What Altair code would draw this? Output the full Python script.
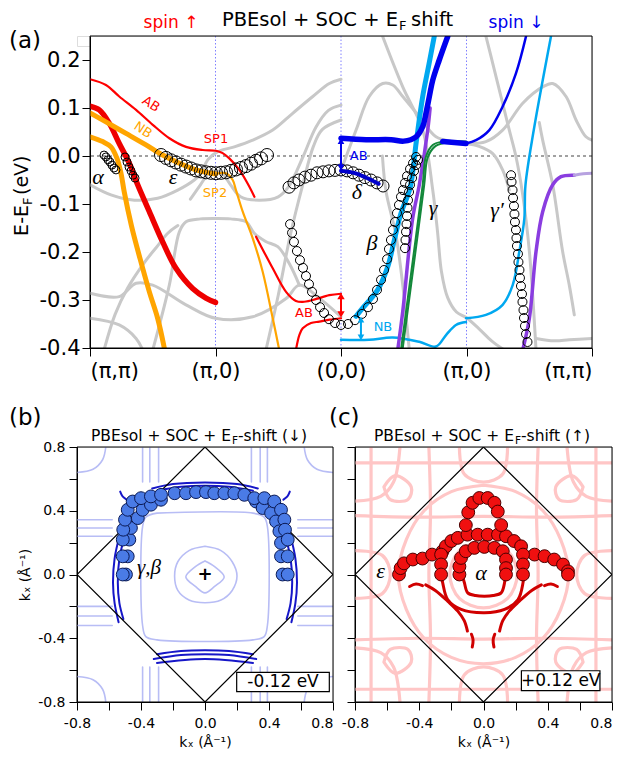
import json
import altair as alt
import pandas as pd

FONT = "DejaVu Sans"
SERIF = "Liberation Serif"

# ======================= panel (a) values =======================
A_XTICK_VALUES = [0, 1, 2, 3, 4]
A_XTICK_LABELS = ["(π,π)", "(π,0)", "(0,0)", "(π,0)", "(π,π)"]
A_YTICK_VALUES = [-0.4, -0.3, -0.2, -0.1, 0.0, 0.1, 0.2]
A_GUIDES_K = [1, 2, 3]

# spin-up DFT bands (k path coordinate, E-EF in eV)
RED_AB_K = [0.0, 0.127, 0.233, 0.367, 0.500, 0.632, 0.765, 0.898, 1.004, 1.057, 1.110, 1.190, 1.270, 1.310]
RED_AB_E = [0.160, 0.148, 0.124, 0.096, 0.065, 0.037, 0.019, 0.0125, 0.011, 0.006, -0.005, -0.029, -0.064, -0.085]
RED_AB2_K = [1.323, 1.456, 1.562, 1.641, 1.695, 1.775, 1.907, 2.0]
RED_AB2_E = [-0.168, -0.234, -0.283, -0.302, -0.304, -0.300, -0.290, -0.287]
RED_AB3_K = [1.641, 1.668, 1.695, 1.761, 1.827, 1.910, 2.0]
RED_AB3_E = [-0.404, -0.373, -0.359, -0.348, -0.345, -0.341, -0.338]
RED_NB_K = [0.0, 0.074, 0.154, 0.233, 0.313, 0.380, 0.473, 0.579, 0.685, 0.818, 0.924, 1.0]
RED_NB_E = [0.104, 0.096, 0.068, 0.026, -0.015, -0.060, -0.116, -0.179, -0.234, -0.276, -0.296, -0.305]
ORANGE_NB_K = [0.0, 0.127, 0.287, 0.446, 0.579, 0.712, 0.845, 1.0]
ORANGE_NB_E = [0.090, 0.071, 0.047, 0.023, 0.002, -0.015, -0.029, -0.0375]
ORANGE_SP2_K = [1.0, 1.084, 1.137, 1.163, 1.217, 1.296, 1.376, 1.456, 1.508]
ORANGE_SP2_E = [-0.0375, -0.036, -0.050, -0.071, -0.116, -0.171, -0.241, -0.338, -0.404]
ORANGE_LOW_K = [0.0, 0.101, 0.167, 0.215, 0.247, 0.273, 0.330, 0.400, 0.473, 0.539, 0.592]
ORANGE_LOW_E = [0.040, 0.030, 0.019, -0.005, -0.036, -0.075, -0.145, -0.215, -0.283, -0.338, -0.400]

# other (grey) DFT bands
GRAY_BANDS = {
    "g1": ([0.0, 0.167, 0.353, 0.539, 0.699, 0.831, 0.884, 0.938, 1.018, 1.150, 1.296, 1.456, 1.615, 1.775, 1.907, 2.0],
           [-0.060, -0.081, -0.092, -0.088, -0.071, -0.050, -0.036, -0.008, 0.009, 0.019, 0.033, 0.054, 0.089, 0.124, 0.151, 0.160]),
    "g2": ([0.80, 0.88, 0.95, 1.0, 1.05, 1.12, 1.20, 1.35, 1.50, 1.58, 1.70, 1.80, 1.90, 2.0],
           [-0.090, -0.060, -0.035, -0.030, -0.035, -0.060, -0.085, -0.092, -0.085, -0.065, 0.000, 0.060, 0.095, 0.106]),
    "g3": ([0.50, 0.632, 0.712, 0.765, 0.88, 1.0, 1.12, 1.243, 1.309, 1.40, 1.496, 1.59, 1.668],
           [-0.404, -0.269, -0.158, -0.137, -0.131, -0.130, -0.131, -0.137, -0.161, -0.178, -0.189, -0.225, -0.269]),
    "g4": ([0.0, 0.233, 0.367, 0.500, 0.765, 1.0, 1.296, 1.562, 1.668, 1.827, 2.0],
           [-0.286, -0.293, -0.265, -0.269, -0.310, -0.338, -0.335, -0.297, -0.269, -0.296, -0.335]),
    "g5": ([0.0, 0.233, 0.367, 0.42], [-0.338, -0.352, -0.380, -0.404]),
    "g6": ([0.112, 0.20, 0.30, 0.43, 0.53, 0.62, 0.70], [-0.404, -0.33, -0.275, -0.223, -0.19, -0.161, -0.145]),
    "g7": ([1.402, 1.50, 1.60, 1.695, 1.78, 1.85, 2.0], [-0.404, -0.29, -0.16, -0.06, 0.02, 0.055, 0.075]),
    "g8": ([2.0, 2.12, 2.225, 2.332, 2.412, 2.492, 2.624, 2.757, 2.890, 2.996],
           [-0.030, 0.054, 0.124, 0.151, 0.148, 0.124, 0.082, 0.040, 0.030, 0.026]),
    "g9": ([2.996, 3.155, 3.288, 3.448, 3.607, 3.687, 3.793, 3.873, 3.952, 4.0],
           [0.026, 0.030, 0.054, 0.110, 0.144, 0.151, 0.124, 0.075, 0.040, 0.033]),
    "g10": ([2.332, 2.492, 2.651, 2.731, 2.77, 2.80, 2.85, 2.92, 3.0, 3.10, 3.20, 3.30],
            [0.249, 0.144, 0.054, -0.071, -0.16, -0.24, -0.295, -0.325, -0.337, -0.36, -0.385, -0.404]),
    "g11": ([2.33, 2.359, 2.438, 2.492, 2.544], [0.0, -0.074, -0.165, -0.269, -0.404]),
    "g12": ([3.155, 3.209, 3.341, 3.394, 3.448, 3.501, 3.554], [0.249, 0.193, 0.054, -0.001, -0.081, -0.199, -0.404]),
    "g13": ([3.58, 3.607, 3.687, 3.766, 3.819, 3.859], [0.07, 0.033, -0.06, -0.199, -0.269, -0.331]),
    "g14": ([3.554, 3.70, 3.819, 4.0], [-0.38, -0.385, -0.383, -0.38]),
    "g15": ([2.996, 3.10, 3.209, 3.288, 3.341], [0.026, 0.020, 0.005, -0.029, -0.071]),
}

# spin-down DFT bands
BLUE_THICK_K = [2.0, 2.2, 2.4, 2.5, 2.598, 2.651, 2.677, 2.704, 2.731, 2.783, 2.850]
BLUE_THICK_E = [0.037, 0.034, 0.034, 0.031, 0.040, 0.061, 0.089, 0.124, 0.158, 0.200, 0.249]
BLUE_FLAT_K = [2.810, 2.996]
BLUE_FLAT_E = [0.030, 0.026]
BLUE_THIN_K = [2.996, 3.076, 3.182, 3.288, 3.394, 3.474]
BLUE_THIN_E = [0.026, 0.033, 0.054, 0.103, 0.172, 0.249]
BLUE_DELTA_K = [2.0, 2.1, 2.2, 2.3]
BLUE_DELTA_E = [-0.031, -0.035, -0.045, -0.058]
LBLUE_THICK_K = [2.12, 2.159, 2.292, 2.372, 2.425, 2.478, 2.55, 2.60, 2.651, 2.70, 2.743]
LBLUE_THICK_E = [-0.334, -0.321, -0.279, -0.231, -0.175, -0.119, -0.067, 0.03, 0.124, 0.19, 0.249]
LBLUE_NB_K = [2.0, 2.225, 2.412, 2.624, 2.757, 2.837, 2.916, 2.996]
LBLUE_NB_E = [-0.383, -0.383, -0.378, -0.387, -0.397, -0.373, -0.352, -0.346]
LBLUE_R_K = [2.996, 3.155, 3.288, 3.368, 3.421, 3.461, 3.47, 3.536, 3.673]
LBLUE_R_E = [-0.338, -0.331, -0.310, -0.269, -0.199, -0.130, -0.06, 0.054, 0.249]
PURPLE1_K = [2.452, 2.492, 2.571, 2.624, 2.691, 2.71]
PURPLE1_E = [-0.404, -0.324, -0.130, -0.060, 0.054, 0.10]
PURPLE2_K = [3.448, 3.501, 3.554, 3.607, 3.687, 3.753, 3.859]
PURPLE2_E = [-0.404, -0.338, -0.199, -0.116, -0.060, -0.043, -0.040]
LAVENDER_K = [3.859, 3.93, 4.0]
LAVENDER_E = [-0.040, -0.037, -0.036]
GREEN1_K = [2.478, 2.571, 2.651, 2.677, 2.731, 2.810, 2.996]
GREEN1_E = [-0.404, -0.220, -0.060, -0.001, 0.023, 0.030, 0.030]
GREEN2_K = [2.49, 2.583, 2.663, 2.69, 2.745, 2.82, 2.996]
GREEN2_E = [-0.404, -0.220, -0.060, -0.004, 0.019, 0.027, 0.028]

# ARPES band positions (open circles)
ARPES_ALPHA_K = [0.112, 0.127, 0.143, 0.159, 0.175, 0.191, 0.207]
ARPES_ALPHA_E = [0.002, -0.002, -0.008, -0.0125, -0.019, -0.025, -0.029]
ARPES_ALPHA2_K = [0.279, 0.295, 0.311, 0.327, 0.343, 0.359]
ARPES_ALPHA2_E = [-0.002, -0.0125, -0.023, -0.031, -0.040, -0.046]
ARPES_EPS_K = [0.566, 0.606, 0.645, 0.685, 0.725, 0.765, 0.805, 0.845, 0.884, 0.924, 0.964,
               1.004, 1.044, 1.084, 1.124, 1.163, 1.203, 1.243, 1.283, 1.323, 1.363, 1.410]
ARPES_EPS_E = [0.002, -0.004, -0.009, -0.0135, -0.018, -0.022, -0.026, -0.030, -0.032, -0.034, -0.035,
               -0.036, -0.035, -0.034, -0.031, -0.028, -0.025, -0.021, -0.016, -0.010, -0.005, 0.002]
ARPES_DELTA_K = [1.586, 1.625, 1.665, 1.713, 1.761, 1.809, 1.857, 1.904, 1.952, 2.0, 2.048, 2.096,
                 2.143, 2.191, 2.239, 2.287, 2.335]
ARPES_DELTA_E = [-0.065, -0.056, -0.050, -0.044, -0.040, -0.035, -0.033, -0.031, -0.030, -0.029, -0.031,
                 -0.035, -0.040, -0.045, -0.050, -0.056, -0.0625]
ARPES_BETA_K = [1.594, 1.610, 1.625, 1.649, 1.673, 1.697, 1.721, 1.745, 1.769, 1.801,
                1.833, 1.865, 1.904, 1.952, 2.0, 2.056, 2.112, 2.167, 2.215, 2.255,
                2.287, 2.319, 2.343, 2.367, 2.382, 2.398, 2.414, 2.430, 2.446, 2.462,
                2.478, 2.494, 2.510, 2.526, 2.550, 2.574, 2.598]
ARPES_BETA_E = [-0.142, -0.160, -0.179, -0.198, -0.217, -0.233, -0.250, -0.267, -0.283, -0.300,
                -0.315, -0.327, -0.340, -0.348, -0.352, -0.350, -0.342, -0.329, -0.315, -0.298,
                -0.279, -0.258, -0.2375, -0.215, -0.194, -0.175, -0.154, -0.1375, -0.119, -0.102,
                -0.085, -0.071, -0.056, -0.042, -0.027, -0.015, -0.002]
ARPES_GAMMA_K = [2.510, 2.514, 2.518, 2.522, 2.526, 2.530, 2.534, 2.542, 2.550, 2.566, 2.582, 2.598, 2.614]
ARPES_GAMMA_E = [-0.192, -0.175, -0.158, -0.142, -0.125, -0.108, -0.092, -0.075, -0.060, -0.046, -0.031,
                 -0.019, -0.008]
ARPES_GAMMAP_K = [3.355, 3.359, 3.367, 3.371, 3.378, 3.382, 3.386, 3.394, 3.398, 3.402, 3.410,
                  3.414, 3.422, 3.426, 3.434, 3.442, 3.446, 3.454, 3.458, 3.466, 3.474, 3.486]
ARPES_GAMMAP_E = [-0.040, -0.054, -0.071, -0.0875, -0.104, -0.121, -0.1375, -0.154, -0.171, -0.1875, -0.204,
                  -0.221, -0.2375, -0.254, -0.271, -0.2875, -0.304, -0.321, -0.3375, -0.354, -0.371, -0.3875]

# ======================= panels (b), (c) values =======================
BC_TICKS = [-0.8, -0.6, -0.4, -0.2, 0.0, 0.2, 0.4, 0.6, 0.8]
BZ_K = [0.0, 0.8, 0.0, -0.8, 0.0]
BZ_Y = [0.8, 0.0, -0.8, 0.0, 0.8]

B_LIGHT = {
    "in1": ([0.0, 0.06, 0.12, 0.06, 0.0, -0.06, -0.12, -0.06, 0.0],
            [0.085, 0.05, -0.015, -0.075, -0.115, -0.075, -0.015, 0.05, 0.085]),
    "in2": ([0.0, 0.10, 0.17, 0.20, 0.17, 0.10, 0.0, -0.10, -0.17, -0.19, -0.17, -0.10, 0.0],
            [0.177, 0.15, 0.08, -0.01, -0.10, -0.16, -0.177, -0.16, -0.10, -0.01, 0.08, 0.15, 0.177]),
    "sq": ([-0.30, 0.30, 0.37, 0.39, 0.39, 0.37, 0.30, -0.30, -0.37, -0.39, -0.39, -0.37, -0.30],
           [0.385, 0.385, 0.36, 0.30, -0.32, -0.39, -0.41, -0.41, -0.39, -0.32, 0.30, 0.36, 0.385]),
    "ctr": ([0.62, 0.64, 0.70, 0.80], [0.80, 0.72, 0.66, 0.64]),
    "ctl": ([-0.62, -0.64, -0.70, -0.80], [0.80, 0.72, 0.66, 0.64]),
    "cbr": ([0.62, 0.64, 0.70, 0.80], [-0.80, -0.72, -0.66, -0.64]),
    "cbl": ([-0.62, -0.64, -0.70, -0.80], [-0.80, -0.72, -0.66, -0.64]),
}
B_LIGHT_VLINES = [-0.39, -0.345, -0.29, 0.29, 0.345, 0.39]
B_LIGHT_HLINES = [0.344, 0.292, 0.24, -0.20, -0.26, -0.32]
B_DARK = {
    "t1": ([-0.33, -0.2, 0.0, 0.2, 0.33], [0.54, 0.568, 0.578, 0.568, 0.54]),
    "t2": ([-0.30, -0.15, 0.0, 0.15, 0.30], [0.525, 0.55, 0.557, 0.55, 0.525]),
    "l1": ([-0.53, -0.565, -0.575, -0.565, -0.54], [0.26, 0.10, -0.05, -0.18, -0.30]),
    "l2": ([-0.50, -0.535, -0.545, -0.535, -0.51], [0.25, 0.10, -0.05, -0.18, -0.28]),
    "r1": ([0.53, 0.565, 0.575, 0.565, 0.54], [0.26, 0.10, -0.05, -0.18, -0.30]),
    "r2": ([0.50, 0.535, 0.545, 0.535, 0.51], [0.25, 0.10, -0.05, -0.18, -0.28]),
    "b1": ([-0.30, -0.15, 0.0, 0.15, 0.30], [-0.50, -0.48, -0.475, -0.48, -0.50]),
    "b2": ([-0.32, -0.15, 0.0, 0.15, 0.32], [-0.53, -0.505, -0.50, -0.505, -0.53]),
    "b3": ([-0.30, 0.0, 0.30], [-0.555, -0.53, -0.555]),
    "hl": ([-0.53, -0.515, -0.49], [0.52, 0.49, 0.47]),
    "hr": ([0.53, 0.515, 0.49], [0.52, 0.49, 0.47]),
}
B_OUT_K = [-0.514, -0.514, -0.514, -0.511, -0.500, -0.483, -0.452, -0.400, -0.338, -0.275, -0.190, -0.119, -0.056,
           0.006, 0.058, 0.121, 0.183, 0.246, 0.308, 0.371, 0.433, 0.475, 0.496, 0.500, 0.517, 0.517, 0.517]
B_OUT_Y = [0.000, 0.114, 0.219, 0.281, 0.344, 0.406, 0.458, 0.479, 0.490, 0.500, 0.510, 0.510, 0.517,
           0.517, 0.510, 0.510, 0.510, 0.500, 0.479, 0.479, 0.458, 0.406, 0.344, 0.281, 0.219, 0.114, 0.000]
B_IN_K = [-0.494, -0.483, -0.473, -0.463, -0.420, -0.390, -0.338, -0.275, 0.319, 0.360, 0.413, 0.444, 0.465, 0.475,
          0.475, 0.485]
B_IN_Y = [0.000, 0.114, 0.219, 0.292, 0.354, 0.406, 0.438, 0.469, 0.458, 0.417, 0.385, 0.333, 0.271, 0.198,
          0.114, 0.000]

C_PINK = {
    "circle": ([0.0, 0.20, 0.37, 0.48, 0.53, 0.48, 0.37, 0.20, 0.0, -0.20, -0.37, -0.48, -0.53, -0.48, -0.37, -0.20, 0.0],
               [0.56, 0.52, 0.40, 0.22, 0.0, -0.22, -0.40, -0.52, -0.56, -0.52, -0.40, -0.22, 0.0, 0.22, 0.40, 0.52, 0.56]),
    "ring": ([0.0, 0.15, 0.21, 0.15, 0.0, -0.15, -0.21, -0.15, 0.0], [0.21, 0.15, 0.0, -0.15, -0.21, -0.15, 0.0, 0.15, 0.21]),
    "v1": ([-0.34, -0.33, -0.34, -0.33, -0.34], [0.80, 0.40, 0.0, -0.40, -0.80]),
    "v2": ([0.34, 0.33, 0.34, 0.33, 0.34], [0.80, 0.40, 0.0, -0.40, -0.80]),
    "h1": ([-0.80, -0.40, 0.0, 0.40, 0.80], [0.37, 0.36, 0.365, 0.36, 0.37]),
    "h2": ([-0.80, -0.40, 0.0, 0.40, 0.80], [-0.41, -0.40, -0.405, -0.40, -0.41]),
    "v3": ([-0.70, -0.70], [0.80, -0.80]),
    "v4": ([0.70, 0.70], [0.80, -0.80]),
    "h3": ([-0.80, 0.80], [0.70, 0.70]),
    "h4": ([-0.80, 0.80], [-0.72, -0.72]),
    "ltl": ([-0.62, -0.55, -0.45, -0.47, -0.58, -0.62], [0.55, 0.62, 0.55, 0.47, 0.47, 0.55]),
    "ltr": ([0.62, 0.55, 0.45, 0.47, 0.58, 0.62], [0.55, 0.62, 0.55, 0.47, 0.47, 0.55]),
    "lbl": ([-0.62, -0.55, -0.45, -0.47, -0.58, -0.62], [-0.55, -0.62, -0.55, -0.47, -0.47, -0.55]),
    "lbr": ([0.62, 0.55, 0.45, 0.47, 0.58, 0.62], [-0.55, -0.62, -0.55, -0.47, -0.47, -0.55]),
    "atl": ([-0.80, -0.64, -0.56, -0.52], [0.46, 0.49, 0.58, 0.80]),
    "atr": ([0.80, 0.64, 0.56, 0.52], [0.46, 0.49, 0.58, 0.80]),
    "abl": ([-0.80, -0.64, -0.56, -0.52], [-0.46, -0.49, -0.58, -0.80]),
    "abr": ([0.80, 0.64, 0.56, 0.52], [-0.46, -0.49, -0.58, -0.80]),
    "sl": ([-0.80, -0.63, -0.58, -0.63, -0.80], [0.15, 0.12, 0.0, -0.12, -0.15]),
    "sr": ([0.80, 0.63, 0.58, 0.63, 0.80], [0.15, 0.12, 0.0, -0.12, -0.15]),
    "st": ([-0.15, -0.12, 0.0, 0.12, 0.15], [0.80, 0.63, 0.58, 0.63, 0.80]),
    "sb": ([-0.15, -0.12, 0.0, 0.12, 0.15], [-0.80, -0.63, -0.58, -0.63, -0.80]),
}
C_DARK = {
    "alpha": ([-0.13, -0.119, -0.098, -0.05, 0.006, 0.06, 0.11, 0.131, 0.135],
              [-0.01, -0.052, -0.115, -0.132, -0.136, -0.132, -0.115, -0.052, -0.01]),
    "u": ([-0.262, -0.254, -0.223, -0.139, 0.006, 0.131, 0.215, 0.246, 0.25],
          [-0.01, -0.052, -0.157, -0.219, -0.24, -0.219, -0.157, -0.052, -0.01]),
    "brl": ([-0.36, -0.30, -0.22, -0.16, -0.12, -0.10], [-0.065, -0.10, -0.17, -0.23, -0.29, -0.355]),
    "brr": ([0.36, 0.30, 0.22, 0.16, 0.12, 0.10], [-0.065, -0.10, -0.17, -0.23, -0.29, -0.355]),
    "dl": ([-0.075, -0.065, -0.07], [-0.375, -0.41, -0.455]),
    "dr": ([0.07, 0.06, 0.065], [-0.375, -0.41, -0.455]),
    "tl": ([-0.46, -0.42, -0.38], [-0.075, -0.06, -0.07]),
    "tr": ([0.38, 0.42, 0.46], [-0.07, -0.06, -0.075]),
}
C_EPS_K = [-0.526, -0.516, -0.495, -0.44, -0.38, -0.32, -0.255, -0.234, -0.2, -0.16, -0.1, -0.036, 0.026, 0.09,
           0.14, 0.19, 0.234, 0.318, 0.38, 0.44, 0.495, 0.526, 0.526]
C_EPS_Y = [0.0, 0.04, 0.07, 0.094, 0.10, 0.125, 0.146, 0.177, 0.21, 0.23, 0.25, 0.25, 0.25, 0.25,
           0.24, 0.21, 0.177, 0.125, 0.115, 0.094, 0.0625, 0.02, 0.0]
C_BUMP_K = [-0.11, -0.095, -0.068, -0.026, 0.026, 0.068, 0.089, 0.11]
C_BUMP_Y = [0.31, 0.39, 0.45, 0.48, 0.48, 0.45, 0.395, 0.31]
C_ALPHA_K = [-0.15, -0.15, -0.14, -0.11, -0.057, 0.005, 0.068, 0.12, 0.14, 0.14, 0.14]
C_ALPHA_Y = [0.0, 0.05, 0.104, 0.146, 0.167, 0.173, 0.167, 0.146, 0.094, 0.04, 0.0]
C_LEGS_K = [-0.264, -0.264, -0.264, 0.246, 0.246, 0.246]
C_LEGS_Y = [0.125, 0.063, 0.0, 0.125, 0.063, 0.0]

# ======================= colours =======================
GRAY = "#c8c8c8"
RED = "#ff0000"
ORANGE = "#ffa500"
BLUE = "#0000ee"
LBLUE = "#00a8f0"
PURPLE = "#8a3de0"
LAVENDER = "#b7a2e0"
GREEN = "#13883a"
GUIDE = "#8080ff"


# ======================= helpers =======================
def lines(curves, color, width, X, Y, dash=None, interp="catmull-rom"):
    rows = []
    for name, (ks, ys) in curves.items():
        assert len(ks) == len(ys), name
        for i, (a, b) in enumerate(zip(ks, ys)):
            rows.append({"id": name, "x": a, "y": b, "i": i})
    kw = dict(color=color, strokeWidth=width, interpolate=interp, clip=True,
              strokeCap="round", strokeJoin="round", opacity=1)
    if dash is not None:
        kw["strokeDash"] = dash
    return alt.Chart(pd.DataFrame(rows)).mark_line(**kw).encode(
        x=X, y=Y, detail="id:N", order="i:Q")


def dots(ks, ys, X, Y, size, stroke="black", fill=None, sw=1.0):
    assert len(ks) == len(ys)
    df = pd.DataFrame({"x": ks, "y": ys})
    if fill is None:
        m = alt.Chart(df).mark_point(shape="circle", filled=False, color=stroke, strokeWidth=sw,
                                     size=size, opacity=1, clip=True)
    else:
        m = alt.Chart(df).mark_point(shape="circle", filled=True, fill=fill, stroke=stroke,
                                     strokeWidth=sw, size=size, opacity=1, clip=True)
    return m.encode(x=X, y=Y)


def dtext(s, x, y, X, Y, size, color="black", font=FONT, style="normal", angle=0,
          align="center", baseline="middle", weight="normal"):
    return alt.Chart(pd.DataFrame({"x": [x], "y": [y], "t": [s]})).mark_text(
        font=font, fontSize=size, color=color, fontStyle=style, angle=angle,
        align=align, baseline=baseline, fontWeight=weight).encode(x=X, y=Y, text="t:N")


def ptext(s, x, y, size, color="black", align="left", angle=0, font=FONT, baseline="alphabetic"):
    return alt.Chart(pd.DataFrame({"t": [s]})).mark_text(
        font=font, fontSize=size, color=color, align=align, angle=angle, baseline=baseline).encode(
        x=alt.value(x), y=alt.value(y), text="t:N")


def frame(w, h):
    return alt.Chart(pd.DataFrame({"v": [0]})).mark_rect(
        fillOpacity=0, stroke="black", strokeWidth=1).encode(
        x=alt.value(0), x2=alt.value(w), y=alt.value(0), y2=alt.value(h))


def darrow(k, e_top, e_bot, color, X, Y, width=2.0, head=45):
    rule = alt.Chart(pd.DataFrame({"x": [k], "y": [e_top], "y2": [e_bot]})).mark_rule(
        color=color, strokeWidth=width).encode(x=X, y=Y, y2=alt.Y2("y2"))
    up = alt.Chart(pd.DataFrame({"x": [k], "y": [e_top]})).mark_point(
        shape="triangle-up", filled=True, color=color, size=head, opacity=1).encode(x=X, y=Y)
    dn = alt.Chart(pd.DataFrame({"x": [k], "y": [e_bot]})).mark_point(
        shape="triangle-down", filled=True, color=color, size=head, opacity=1).encode(x=X, y=Y)
    return [rule, up, dn]


def box(x1, x2, y1, y2, label, X, Y, size=17):
    r = alt.Chart(pd.DataFrame({"x": [x1], "x2": [x2], "y": [y1], "y2": [y2]})).mark_rect(
        fill="white", stroke="black", strokeWidth=1.2).encode(x=X, x2=alt.X2("x2"), y=Y, y2=alt.Y2("y2"))
    t = dtext(label, (x1 + x2) / 2, (y1 + y2) / 2, X, Y, size)
    return [r, t]


NUM_EXPR = "(datum.value < -0.001 ? '-' : '') + format(abs(datum.value), '.1f')"

# ======================= panel (a) =======================
XA = alt.X("x:Q", scale=alt.Scale(domain=[0, 4], nice=False, zero=False),
           axis=alt.Axis(values=A_XTICK_VALUES,
                         labelExpr=json.dumps(A_XTICK_LABELS, ensure_ascii=False) + "[datum.value]",
                         tickSize=8, tickColor="black", domainColor="black", labelColor="black",
                         labelFont=FONT, labelFontSize=21, labelPadding=4, grid=False,
                         labelOverlap=False, title=None))
YA = alt.Y("y:Q", scale=alt.Scale(domain=[-0.4, 0.25], nice=False, zero=False),
           axis=alt.Axis(values=A_YTICK_VALUES, labelExpr=NUM_EXPR, tickSize=8, tickColor="black",
                         domainColor="black", labelColor="black", labelFont=FONT, labelFontSize=21,
                         labelPadding=2, grid=False, labelOverlap=False, title=None))

a_layers = [
    alt.Chart(pd.DataFrame({"x": A_GUIDES_K})).mark_rule(color=GUIDE, strokeWidth=1, strokeDash=[1.5, 2]).encode(x=XA),
    alt.Chart(pd.DataFrame({"y": [0.0]})).mark_rule(color="#444444", strokeWidth=1.2, strokeDash=[3, 3]).encode(y=YA),
    lines(GRAY_BANDS, GRAY, 3, XA, YA),
    lines({"lbt": (LBLUE_THICK_K, LBLUE_THICK_E)}, LBLUE, 5, XA, YA),
    lines({"lbn": (LBLUE_NB_K, LBLUE_NB_E), "lbr": (LBLUE_R_K, LBLUE_R_E)}, LBLUE, 2.5, XA, YA),
    lines({"p1": (PURPLE1_K, PURPLE1_E), "p2": (PURPLE2_K, PURPLE2_E)}, PURPLE, 3.5, XA, YA),
    lines({"lav": (LAVENDER_K, LAVENDER_E)}, LAVENDER, 3, XA, YA),
    lines({"gr1": (GREEN1_K, GREEN1_E), "gr2": (GREEN2_K, GREEN2_E)}, GREEN, 2, XA, YA),
    lines({"bt": (BLUE_THICK_K, BLUE_THICK_E), "bf": (BLUE_FLAT_K, BLUE_FLAT_E)}, BLUE, 5.5, XA, YA),
    lines({"bthin": (BLUE_THIN_K, BLUE_THIN_E)}, BLUE, 2.5, XA, YA),
    lines({"ra1": (RED_AB_K, RED_AB_E), "ra2": (RED_AB2_K, RED_AB2_E), "ra3": (RED_AB3_K, RED_AB3_E)}, RED, 2.2, XA, YA),
    lines({"rnb": (RED_NB_K, RED_NB_E)}, "#ee0000", 5.5, XA, YA),
    lines({"onb": (ORANGE_NB_K, ORANGE_NB_E), "olow": (ORANGE_LOW_K, ORANGE_LOW_E)}, ORANGE, 5, XA, YA),
    lines({"osp2": (ORANGE_SP2_K, ORANGE_SP2_E)}, ORANGE, 2.2, XA, YA),
    dots(ARPES_ALPHA_K, ARPES_ALPHA_E, XA, YA, 64),
    dots(ARPES_ALPHA2_K, ARPES_ALPHA2_E, XA, YA, 64),
    dots(ARPES_EPS_K, ARPES_EPS_E, XA, YA, 170),
    dots(ARPES_DELTA_K, ARPES_DELTA_E, XA, YA, 144),
    dots(ARPES_BETA_K, ARPES_BETA_E, XA, YA, 81),
    dots(ARPES_GAMMA_K, ARPES_GAMMA_E, XA, YA, 81),
    dots(ARPES_GAMMAP_K, ARPES_GAMMAP_E, XA, YA, 81),
    lines({"bd": (BLUE_DELTA_K, BLUE_DELTA_E)}, "#0000cc", 4, XA, YA, dash=[2, 1.5]),
]
a_layers += darrow(2.0, 0.031, -0.024, BLUE, XA, YA)
a_layers += darrow(2.0, -0.292, -0.330, RED, XA, YA, head=55)
a_layers += darrow(2.159, -0.341, -0.378, LBLUE, XA, YA)
a_layers += [
    dtext("AB", 0.486, 0.108, XA, YA, 13, color=RED, angle=33),
    dtext("NB", 0.422, 0.054, XA, YA, 13, color=ORANGE, angle=33),
    dtext("SP1", 1.004, 0.035, XA, YA, 13, color=RED),
    dtext("SP2", 0.996, -0.077, XA, YA, 13, color=ORANGE),
    dtext("AB", 1.705, -0.327, XA, YA, 13, color=RED),
    dtext("AB", 2.07, 0.0, XA, YA, 13, color=BLUE, align="left"),
    dtext("NB", 2.26, -0.356, XA, YA, 13, color=LBLUE, align="left"),
    dtext("α", 0.064, -0.044, XA, YA, 22, font=SERIF, style="italic"),
    dtext("ε", 0.661, -0.044, XA, YA, 22, font=SERIF, style="italic"),
    dtext("δ", 2.127, -0.075, XA, YA, 22, font=SERIF, style="italic"),
    dtext("β", 2.247, -0.181, XA, YA, 22, font=SERIF, style="italic"),
    dtext("γ", 2.733, -0.108, XA, YA, 22, font=SERIF, style="italic"),
    dtext("γ′", 3.243, -0.112, XA, YA, 22, font=SERIF, style="italic"),
    frame(502, 312),
    # titles (pixel positions relative to the panel's plot area)
    ptext("PBEsol + SOC + E", 308, -10, 19.5, align="right"),
    ptext("F", 309, -6, 13),
    ptext("shift", 321, -10, 19.5),
    ptext("spin ↑", 81, -8, 17, color=RED, align="center"),
    ptext("spin ↓", 426, -8, 17, color=BLUE, align="center"),
    ptext("(a)", -81, 12, 23),
    ptext("E-E", -62, 169, 19, align="right", angle=270),
    ptext("F", -58, 169, 13, angle=270),
    ptext(" (eV)", -62, 159, 19, angle=270),
]
panel_a = alt.layer(*a_layers).properties(width=502, height=312)

# invisible 13-px spacer: panel (a) starts 13 px to the right of panel (b)
spacer = alt.Chart(pd.DataFrame({"v": [0]})).mark_point(opacity=0).encode(
    x=alt.value(0), y=alt.value(0)).properties(width=13, height=10)

# ======================= panels (b) and (c) =======================
BC_LABEL_EXPR = ("abs(datum.value*2.5 - round(datum.value*2.5)) < 0.01 ? " + NUM_EXPR + " : ''")
KX_TITLE = "kₓ (Å⁻¹)"
X_ALIGN = {"condition": {"test": "datum.value > 0.79", "value": "right"}, "value": "center"}


def bc_axes(show_y):
    sc = alt.Scale(domain=[-0.8, 0.8], nice=False, zero=False)
    common = dict(values=BC_TICKS, tickSize=8, tickColor="black", domainColor="black", labelColor="black",
                  labelFont=FONT, labelFontSize=14, grid=False, labelOverlap=False,
                  titleFont=FONT, titleFontSize=14, titleFontWeight="normal", titleColor="black")
    X = alt.X("x:Q", scale=sc, axis=alt.Axis(labelExpr=BC_LABEL_EXPR, labelAlign=X_ALIGN, labelPadding=6,
                                              title=KX_TITLE, titlePadding=5, **common))
    if show_y:
        yax = alt.Axis(labelExpr=BC_LABEL_EXPR, labelPadding=4, title=KX_TITLE, titlePadding=5, **common)
    else:
        yax = alt.Axis(labels=False, title=None, **common)
    Y = alt.Y("y:Q", scale=sc, axis=yax)
    return X, Y


XB, YB = bc_axes(True)
b_layers = [
    lines(B_LIGHT, "#b8bdf5", 1.6, XB, YB),
    lines({f"v{i}_{s}": ([v, v], [0.8 * s, 0.58 * s]) for i, v in enumerate(B_LIGHT_VLINES) for s in (1, -1)},
          "#b8bdf5", 1.6, XB, YB, interp="linear"),
    lines({f"h{i}_{s}": ([0.8 * s, 0.58 * s], [h, h]) for i, h in enumerate(B_LIGHT_HLINES) for s in (1, -1)},
          "#b8bdf5", 1.6, XB, YB, interp="linear"),
    lines(B_DARK, "#1616c8", 2, XB, YB),
    lines({"bz": (BZ_K, BZ_Y)}, "black", 1.2, XB, YB, interp="linear"),
    dots(B_IN_K, B_IN_Y, XB, YB, 165, stroke="#0b1a55", fill="#4a7be6"),
    dots(B_OUT_K, B_OUT_Y, XB, YB, 165, stroke="#0b1a55", fill="#4a7be6"),
    dtext("+", 0.0, 0.0, XB, YB, 18, weight="bold"),
    dtext("γ,β", -0.35, 0.04, XB, YB, 21, font=SERIF, style="italic"),
]
b_layers += box(0.198, 0.777, -0.614, -0.735, "-0.12 eV", XB, YB)
b_layers += [
    frame(256, 255),
    ptext("(b)", -68, -22, 23),
    ptext("PBEsol + SOC + E", 154, -6, 15.5, align="right"),
    ptext("F", 155, -3, 10.5),
    ptext("-shift (↓)", 161, -6, 15.5),
]
panel_b = alt.layer(*b_layers).properties(width=256, height=255)

XC, YC = bc_axes(False)
c_layers = [
    lines(C_PINK, "#ffc6c6", 3.2, XC, YC),
    lines(C_DARK, "#d00000", 3, XC, YC),
    lines({"bz": (BZ_K, BZ_Y)}, "black", 1.2, XC, YC, interp="linear"),
    dots(C_EPS_K, C_EPS_Y, XC, YC, 165, stroke="#4a0000", fill="#f01010"),
    dots(C_BUMP_K, C_BUMP_Y, XC, YC, 165, stroke="#4a0000", fill="#f01010"),
    dots(C_ALPHA_K, C_ALPHA_Y, XC, YC, 165, stroke="#4a0000", fill="#f01010"),
    dots(C_LEGS_K, C_LEGS_Y, XC, YC, 165, stroke="#4a0000", fill="#f01010"),
    dtext("ε", -0.64, 0.02, XC, YC, 22, font=SERIF, style="italic"),
    dtext("α", -0.015, 0.01, XC, YC, 22, font=SERIF, style="italic"),
]
c_layers += box(0.236, 0.725, -0.604, -0.729, "+0.12 eV", XC, YC)
c_layers += [
    frame(257, 255),
    ptext("(c)", -26, -22, 23),
    ptext("PBEsol + SOC + E", 159, -6, 15.5, align="right"),
    ptext("F", 160, -3, 10.5),
    ptext("-shift (↑)", 166, -6, 15.5),
]
panel_c = alt.layer(*c_layers).properties(width=257, height=255)

top_row = alt.hconcat(spacer, panel_a, spacing=0, bounds="flush")
bottom_row = alt.hconcat(panel_b, panel_c, spacing=22, bounds="flush")
chart = (alt.vconcat(top_row, bottom_row, spacing=24)
         .properties(padding={"left": 0, "top": 1, "right": 0, "bottom": 0})
         .configure_view(strokeWidth=0)
         .configure(font=FONT))

chart.save("out.html", embed_options={"renderer": "svg", "actions": False})
